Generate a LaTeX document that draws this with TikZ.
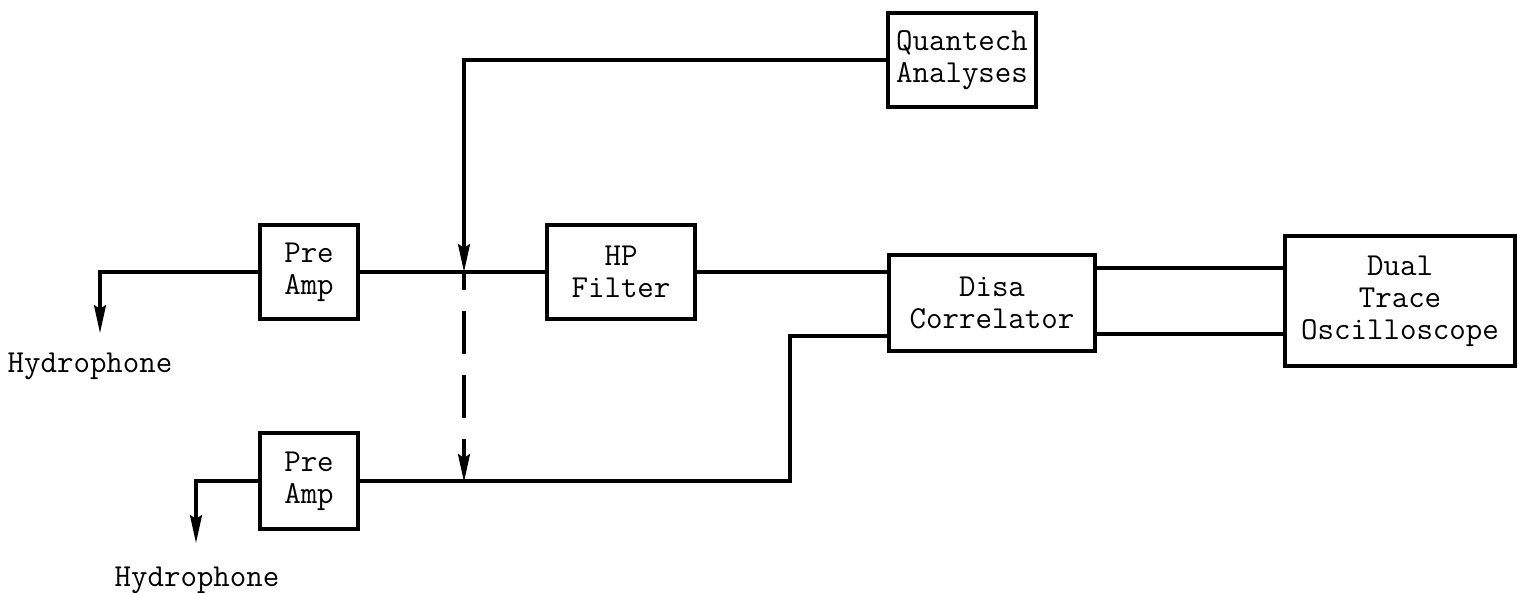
\documentclass[tikz,border=0pt]{standalone}
\usetikzlibrary{arrows.meta,positioning}

\begin{document}
\begin{tikzpicture}[x=0.5pt, y=-0.5pt,
    font=\ttfamily\fontsize{16}{16}\selectfont,
    block/.style={rectangle, draw, line width=1.9pt, align=center, inner sep=0pt},
    wire/.style={line width=1.6pt},
    tip/.style={wire, -{Stealth[length=14pt,width=6pt,inset=2pt]}}]
    \useasboundingbox (0,0) rectangle (1518,593);

    % Blocks
    \node (pre1) [block, minimum width=49pt, minimum height=47pt] at (309,272) {Pre\\Amp};
    \node (pre2) [block, minimum width=49pt, minimum height=48pt] at (309,481) {Pre\\Amp};
    \node (hp) [block, minimum width=74pt, minimum height=47pt] at (621,272) {HP\\Filter};
    \node (quan) [block, minimum width=74pt, minimum height=47pt] at (962,60) {Quantech\\Analyses};
    \node (disa) [block, minimum width=103pt, minimum height=48pt] at (992,303) {Disa\\Correlator};
    \node (osc) [block, minimum width=115pt, minimum height=65pt] at (1400,301) {Dual\\Trace\\Oscilloscope};

    % Hydrophones
    \node (hyd1) at (90,366) {Hydrophone};
    \node (hyd2) at (197,580) {Hydrophone};
    \coordinate (h1tip) at (100,333);
    \coordinate (h2tip) at (196,543);

    % Junctions
    \coordinate (j1) at (464,272);
    \coordinate (j2) at (464,482);
    \coordinate (k) at (790,336);

    % Main connections
    \draw[tip] (pre1.west) -| (h1tip);
    \draw[tip] (pre2.west) -| (h2tip);
    \draw[wire] (pre1.east) -- (hp.west);
    \draw[wire] (hp.east) -- (hp.east -| disa.west);
    \draw[wire] (pre2.east) -| (k) -- (k -| disa.west);
    \draw[wire] (disa.east |- 0,268) -- (osc.west |- 0,268);
    \draw[wire] (disa.east |- 0,334) -- (osc.west |- 0,334);

    % Quantech feed and dashed link
    \draw[tip] (quan.west) -| (j1);
    \draw[tip, dash pattern=on 21.5pt off 10.5pt, dash phase=12.5pt] (j1) -- (j2);
\end{tikzpicture}
\end{document}
